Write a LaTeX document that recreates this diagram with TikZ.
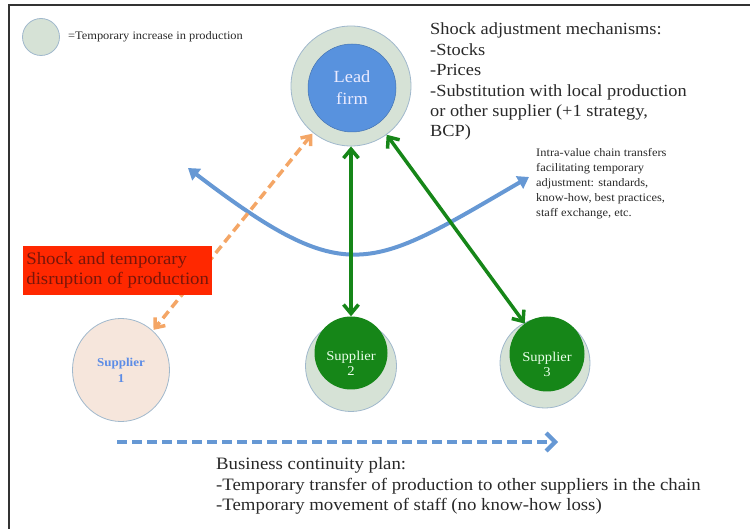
\documentclass[tikz,border=0pt]{standalone}
\usepackage{fontspec}
\setmainfont{Liberation Serif}[FakeStretch=1.08]
\usetikzlibrary{positioning,arrows.meta,shapes.geometric}
\definecolor{halofill}{RGB}{214,226,214}
\definecolor{haloline}{RGB}{160,184,204}
\definecolor{firmblue}{RGB}{88,146,222}
\definecolor{supgreen}{RGB}{22,134,24}
\definecolor{suppink}{RGB}{246,230,220}
\definecolor{suptext}{RGB}{92,140,230}
\definecolor{arrorange}{RGB}{244,166,102}
\definecolor{arrblue}{RGB}{102,152,212}
\definecolor{shockred}{RGB}{255,40,0}
\definecolor{shocktext}{RGB}{120,22,10}
\definecolor{txtgray}{RGB}{40,40,40}

\begin{document}
\begin{tikzpicture}[x=1pt,y=-1pt,
  halo/.style={circle,draw=haloline,fill=halofill,line width=0.8pt,inner sep=0pt},
  firm/.style={circle,draw=firmblue!80!black,fill=firmblue,line width=0.5pt,align=center,inner sep=0pt,
    text=white!92!blue,font=\fontsize{17}{22}\selectfont},
  sup/.style={circle,fill=supgreen,inner sep=0pt},
  suplbl/.style={align=center,inner sep=0pt,text=green!8,font=\fontsize{13.5}{15}\selectfont,yshift=-10pt},
  sup1/.style={ellipse,draw=haloline,fill=suppink,line width=0.8pt,align=center,inner sep=0pt,
    text=suptext,font=\bfseries\fontsize{12}{16}\selectfont},
  txt/.style={align=left,inner sep=0pt,text=txtgray},
  shock/.style={rectangle,fill=shockred,align=left,text=shocktext,inner xsep=3pt,inner ysep=4pt,
    minimum width=189pt,minimum height=49pt,font=\fontsize{17.4}{20}\selectfont},
  orng/.style={{Straight Barb[length=8pt,width=13pt]}-{Straight Barb[length=8pt,width=13pt]},
    line width=3.5pt,arrorange,dash pattern=on 9pt off 5pt,shorten <=1pt,shorten >=1pt},
  grn/.style={{Straight Barb[length=9pt,width=15pt]}-{Straight Barb[length=9pt,width=15pt]},
    line width=3.5pt,supgreen},
  blu/.style={{Triangle[length=11pt,width=14pt]}-{Triangle[length=11pt,width=14pt]},
    line width=4pt,arrblue},
  bcp/.style={-{Straight Barb[length=9pt,width=18pt]},line width=4.2pt,arrblue,dash pattern=on 10pt off 5pt}]
\useasboundingbox (0,0) rectangle (750,529);
\draw[line width=1.5pt,black!80] (9,529) -- (9,5) -- (750,5);

% key
\node[halo,minimum size=37pt](key) at (41,37){};
\node[txt,right=8pt of key,font=\fontsize{11.5}{13}\selectfont](keylbl){=Temporary increase in production};

% firm and suppliers
\node[halo,minimum size=120pt](leadh) at (351,86){};
\node[firm,minimum size=88pt](lead) at (352,88){Lead\\firm};
\node[sup1,minimum width=97pt,minimum height=103pt](s1) at (121,370){Supplier\\1};
\node[halo,minimum size=91pt](s2h) at (351,366){};
\node[sup,minimum size=73pt,label={[suplbl]center:Supplier\\2}](s2) at (351,353){};
\node[halo,minimum size=90pt](s3h) at (545,363){};
\node[sup,minimum size=75pt,label={[suplbl]center:Supplier\\3}](s3) at (547,354){};

% transfers in the chain
\coordinate (bl) at (188,168);
\coordinate (br) at (529,177);
\draw[blu] (bl) .. controls (348,290) and (369,270) .. (br);
\draw[orng] (leadh) -- (s1);
\draw[grn] (leadh) -- (s2);
\draw[grn] (leadh) -- (s3);

\node[shock,anchor=north west](shock) at (23,246){Shock and temporary\\disruption of production};

% texts
\node[txt,anchor=north west,font=\fontsize{17}{20.4}\selectfont](adj) at (430,23){Shock adjustment mechanisms:\\-Stocks\\-Prices\\-Substitution with local production\\or other supplier (+1 strategy,\\BCP)};
\node[txt,anchor=north west,font=\fontsize{11.5}{15}\selectfont](intra) at (536,148.5){Intra-value chain transfers\\facilitating temporary\\adjustment: standards,\\know-how, best practices,\\staff exchange, etc.};

% business continuity
\coordinate (bcpl) at (117,442);
\coordinate (bcpr) at (558,442);
\draw[bcp] (bcpl) -- (bcpr);
\node[txt,anchor=north west,font=\fontsize{17.4}{20.8}\selectfont](plan) at (216,457){Business continuity plan:\\-Temporary transfer of production to other suppliers in the chain\\-Temporary movement of staff (no know-how loss)};
\end{tikzpicture}
\end{document}
